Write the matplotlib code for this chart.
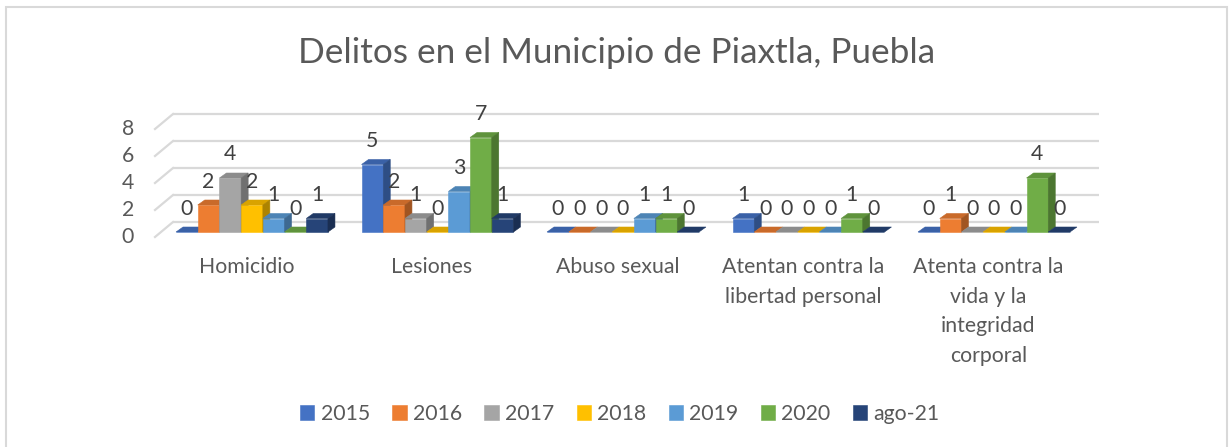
import matplotlib
matplotlib.use("Agg")
import matplotlib.pyplot as plt
from matplotlib.patches import Polygon, Rectangle
import numpy as np

# ---------------- data ----------------
title = "Delitos en el Municipio de Piaxtla, Puebla"
categories = ["Homicidio", "Lesiones", "Abuso sexual",
              "Atentan contra la\nlibertad personal",
              "Atenta contra la\nvida y la\nintegridad\ncorporal"]
series = ["2015", "2016", "2017", "2018", "2019", "2020", "ago-21"]
v2015 = [0, 5, 0, 1, 0]
v2016 = [2, 2, 0, 0, 1]
v2017 = [4, 1, 0, 0, 0]
v2018 = [2, 0, 0, 0, 0]
v2019 = [1, 3, 1, 0, 0]
v2020 = [0, 7, 1, 1, 4]
vago21 = [1, 1, 0, 0, 0]
values = [v2015, v2016, v2017, v2018, v2019, v2020, vago21]
yticks = [0, 2, 4, 6, 8]
colors = ["#4472C4", "#ED7D31", "#A5A5A5", "#FFC000", "#5B9BD5", "#70AD47", "#264478"]

# ---------------- layout (pixels) ----------------
W, H = 1229, 447
GX = 185.5          # px per category
X0 = 252.0          # px of first group centre
PY = 13.5           # px per value unit
Y0 = 232.0          # px (from top) of bar baseline
FONT = "Lato"
TXT = "#595959"
FS = 15.3

def ux(p):  # pixel x -> data x
    return (p - X0) / GX

def vy(dp):  # pixel distance -> value units
    return dp / PY

fig = plt.figure(figsize=(W / 100, H / 100), dpi=100)
ax = fig.add_axes([0, 0, 1, 1])
ax.set_xlim(ux(0), ux(W))
ax.set_ylim(-(H - Y0) / PY, Y0 / PY)
ax.axis("off")

# chart border
fig.patches.append(Rectangle((6 / W, -0.05), (1227 - 6) / W, 1.05 - 7 / H,
                             transform=fig.transFigure, fill=False,
                             edgecolor="#d9d9d9", linewidth=1.5, zorder=0))

# back wall gridlines + floor diagonals
gx_front, gx_back, gx_end = ux(155), ux(173), ux(1099)
back_dy, front_dy = vy(10), vy(-5)
for t in yticks:
    ax.plot([gx_back, gx_end], [t + back_dy, t + back_dy], color="#d9d9d9", lw=1.6, zorder=0.5,
            solid_capstyle="butt")
    ax.plot([gx_front, gx_back], [t + front_dy, t + back_dy], color="#d9d9d9", lw=1.6, zorder=0.5)
    ax.text(ux(134), t + front_dy, str(t), ha="right", va="center", fontsize=FS,
            family=FONT, color=TXT)

# bars with pseudo-3D faces
bw = 21.7 / GX
ddx = 7.0 / GX
ddy = vy(5.0)

def shade(c, f):
    r, g, b = matplotlib.colors.to_rgb(c)
    return (r * f, g * f, b * f)

n = len(series)
xcat = np.arange(len(categories))
handles = []
for j, (name, vals, col) in enumerate(zip(series, values, colors)):
    xs = xcat + (j - (n - 1) / 2) * bw
    z = 2 + j * 3
    bars = ax.bar(xs, vals, width=bw, color=col, edgecolor=col, linewidth=0.4,
                  zorder=z, label=name)
    handles.append(bars)
    for x, h in zip(xs, vals):
        x0, x1 = x - bw / 2, x + bw / 2
        top = Polygon([(x0, h), (x1, h), (x1 + ddx, h + ddy), (x0 + ddx, h + ddy)],
                      closed=True, facecolor=shade(col, 0.85), edgecolor=shade(col, 0.85),
                      linewidth=0.4, zorder=z + 1)
        ax.add_patch(top)
        if h > 0:
            side = Polygon([(x1, 0), (x1 + ddx, ddy), (x1 + ddx, h + ddy), (x1, h)],
                           closed=True, facecolor=shade(col, 0.68), edgecolor=shade(col, 0.68),
                           linewidth=0.4, zorder=z + 1)
            ax.add_patch(side)
        ax.text(x, h + vy(23.5), str(h), ha="center", va="center", fontsize=FS,
                family=FONT, color="#404040", zorder=50)

# category labels
for i, cat in enumerate(categories):
    ax.text(i - 5.5 / GX, -vy(257 - Y0), cat, ha="center", va="top", fontsize=FS,
            family=FONT, color=TXT, linespacing=1.6)

# title
fig.text(617 / W, 1 - 53 / H, title, ha="center", va="center", fontsize=25.3,
         family=FONT, color=TXT)

# legend
fig.legend(handles=handles, labels=series, loc="center", bbox_to_anchor=(620 / W, 1 - 414 / H),
           ncol=n, frameon=False, prop={"family": FONT, "size": FS},
           handlelength=0.67, handleheight=0.67, handletextpad=0.3, columnspacing=1.05,
           labelcolor=TXT)

fig.savefig("out.png", dpi=100, facecolor="white")
